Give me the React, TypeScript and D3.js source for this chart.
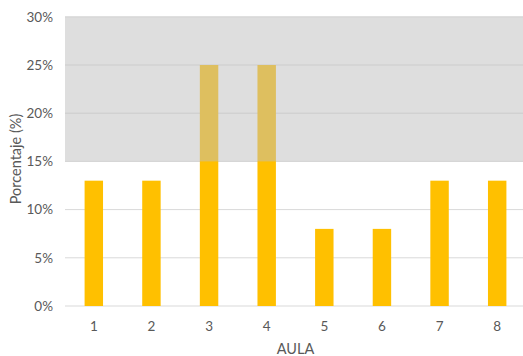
import React from "react";
import * as d3 from "d3";

const aulas = ["1", "2", "3", "4", "5", "6", "7", "8"];
const porcentajes = [13, 13, 25, 25, 8, 8, 13, 13];
const yTicks = [0, 5, 10, 15, 20, 25, 30];
const bandaRango = [15, 30];

const W = 523;
const H = 356;
const FONT = "Lato, 'Liberation Sans', sans-serif";

export default function App() {
  const x = d3
    .scaleBand<string>()
    .domain(aulas)
    .range([65, 526])
    .paddingInner(0.68)
    .paddingOuter(0.34);
  const y = d3.scaleLinear().domain([0, 30]).range([306, 16.8]);

  return (
    <svg
      width={W}
      height={H}
      style={{ position: "absolute", left: 0, top: 0, background: "#fff" }}
    >
      {yTicks.map((t) => (
        <g key={t}>
          <line x1={65} x2={W} y1={y(t)} y2={y(t)} stroke="#D9D9D9" strokeWidth={1} />
          <text
            x={53}
            y={y(t)}
            dy="0.35em"
            textAnchor="end"
            fontFamily={FONT}
            fontSize={13.5}
            fill="#595959"
          >
            {t}%
          </text>
        </g>
      ))}
      {aulas.map((a, i) => (
        <rect
          key={a}
          x={x(a)}
          y={y(porcentajes[i])}
          width={x.bandwidth()}
          height={y(0) - y(porcentajes[i])}
          fill="#FFC000"
        />
      ))}
      <rect
        x={65}
        y={y(bandaRango[1])}
        width={W - 65}
        height={y(bandaRango[0]) - y(bandaRango[1])}
        fill="#BEBEBE"
        fillOpacity={0.5}
      />
      {aulas.map((a) => (
        <text
          key={a}
          x={(x(a) ?? 0) + x.bandwidth() / 2}
          y={331}
          textAnchor="middle"
          fontFamily={FONT}
          fontSize={13.5}
          fill="#595959"
        >
          {a}
        </text>
      ))}
      <text
        x={295.5}
        y={354}
        textAnchor="middle"
        fontFamily={FONT}
        fontSize={14.5}
        fill="#595959"
      >
        AULA
      </text>
      <text
        transform="translate(21, 159) rotate(-90)"
        textAnchor="middle"
        fontFamily={FONT}
        fontSize={14.5}
        fill="#595959"
      >
        Porcentaje (%)
      </text>
    </svg>
  );
}
